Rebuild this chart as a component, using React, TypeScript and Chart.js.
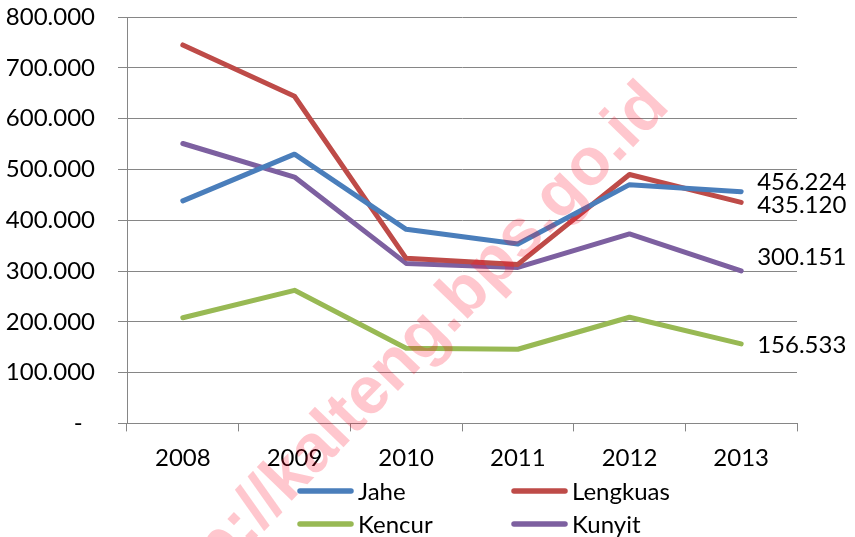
import React, { useEffect, useRef } from "react";
import { Chart, registerables } from "chart.js";

Chart.register(...registerables);

const categories = ["2008", "2009", "2010", "2011", "2012", "2013"];
const seriesNames = ["Jahe", "Lengkuas", "Kencur", "Kunyit"];
const jahe = [438000, 530000, 382000, 353000, 470000, 456224];
const lengkuas = [745000, 644000, 325000, 313000, 490000, 435120];
const kencur = [208000, 262000, 148000, 146000, 209000, 156533];
const kunyit = [551000, 485000, 315000, 307000, 373000, 300151];
const yTicks = [0, 100000, 200000, 300000, 400000, 500000, 600000, 700000, 800000];
const watermarkText = "http://kalteng.bps.go.id";

const COLORS = ["#4A7EBB", "#BE4B48", "#98B954", "#7D60A0"];
const FONT = "Lato";
const FS = 24;
const W = 855;
const H = 537;
const PLOT_TOP = 17;
const PLOT_BOTTOM = 423.4;
const PLOT_LEFT = 127;
const PLOT_RIGHT = 797;

// label nudges (vertical) for end-point value labels, in dataset order
const LABEL_NUDGE = [-9, 3, 1, -14];

function fmt(v: number): string {
  const s = Math.round(v).toString();
  return s.replace(/\B(?=(\d{3})+(?!\d))/g, ".");
}

const overlayPlugin = {
  id: "overlay",
  afterDatasetsDraw(chart: any) {
    const ctx = chart.ctx;
    ctx.save();
    ctx.font = `${FS}px ${FONT}`;
    ctx.fillStyle = "#000";
    ctx.textAlign = "left";
    ctx.textBaseline = "middle";
    chart.data.datasets.forEach((ds: any, i: number) => {
      const meta = chart.getDatasetMeta(i);
      const last = meta.data[meta.data.length - 1];
      const v = ds.data[ds.data.length - 1];
      ctx.fillText(fmt(v), last.x + 16, last.y + LABEL_NUDGE[i]);
    });
    ctx.restore();
  },
  afterDraw(chart: any) {
    const ctx = chart.ctx;
    // legend (2 x 2)
    const rows = [491, 524];
    const cols = [298, 512];
    ctx.save();
    ctx.font = `${FS}px ${FONT}`;
    ctx.textAlign = "left";
    ctx.textBaseline = "middle";
    chart.data.datasets.forEach((ds: any, i: number) => {
      const x = cols[i % 2];
      const y = rows[Math.floor(i / 2)];
      ctx.strokeStyle = ds.borderColor;
      ctx.lineWidth = 5.5;
      ctx.lineCap = "round";
      ctx.beginPath();
      ctx.moveTo(x + 2, y);
      ctx.lineTo(x + 53, y);
      ctx.stroke();
      ctx.fillStyle = "#000";
      ctx.fillText(ds.label, x + 60, y + 1);
    });
    ctx.restore();

    // watermark
    ctx.save();
    ctx.translate(402, 360);
    ctx.rotate((-46 * Math.PI) / 180);
    ctx.font = `bold 67px "Liberation Sans"`;
    ctx.textAlign = "center";
    ctx.textBaseline = "middle";
    ctx.fillStyle = "rgba(255, 0, 30, 0.22)";
    ctx.fillText(watermarkText, 0, 0);
    ctx.restore();
  },
};

export default function App() {
  const ref = useRef<HTMLCanvasElement | null>(null);

  useEffect(() => {
    document.body.style.margin = "0";
    const canvas = ref.current;
    if (!canvas) return;
    const series = [jahe, lengkuas, kencur, kunyit];
    const chart = new Chart(canvas, {
      type: "line",
      data: {
        labels: categories,
        datasets: series.map((d, i) => ({
          label: seriesNames[i],
          data: d,
          borderColor: COLORS[i],
          backgroundColor: COLORS[i],
          borderWidth: 5,
          pointRadius: 0,
          tension: 0,
          fill: false,
          borderJoinStyle: "round" as const,
          borderCapStyle: "round" as const,
        })),
      },
      options: {
        animation: false,
        responsive: false,
        devicePixelRatio: 1,
        layout: { padding: { top: PLOT_TOP, right: W - PLOT_RIGHT, left: 0, bottom: 0 } },
        plugins: { legend: { display: false }, tooltip: { enabled: false } },
        scales: {
          x: {
            offset: true,
            grid: {
              display: true,
              drawOnChartArea: false,
              drawTicks: true,
              tickLength: 8,
              offset: true,
              color: "#868686",
              lineWidth: 1,
            },
            border: { color: "#868686", width: 1 },
            ticks: { font: { family: FONT, size: FS }, color: "#000", padding: 12, maxRotation: 0 },
            afterFit: (s: any) => {
              s.height = H - PLOT_BOTTOM;
              s.paddingLeft = 0;
              s.paddingRight = 0;
            },
          },
          y: {
            min: 0,
            max: 800000,
            afterBuildTicks: (s: any) => {
              s.ticks = yTicks.map((v) => ({ value: v }));
            },
            ticks: {
              font: { family: FONT, size: FS },
              color: "#000",
              padding: 23,
              callback: (v: any) => (Number(v) === 0 ? "-  " : fmt(Number(v))),
            },
            grid: { color: "#868686", lineWidth: 1, tickLength: 9 },
            border: { color: "#868686", width: 1 },
            afterFit: (s: any) => {
              s.width = PLOT_LEFT;
              s.paddingTop = 0;
              s.paddingBottom = 0;
            },
          },
        },
      },
      plugins: [overlayPlugin],
    });
    return () => chart.destroy();
  }, []);

  return (
    <div style={{ position: "fixed", left: 0, top: 0, width: W, height: H, background: "#fff" }}>
      <canvas ref={ref} width={W} height={H} style={{ display: "block", width: W, height: H }} />
    </div>
  );
}
